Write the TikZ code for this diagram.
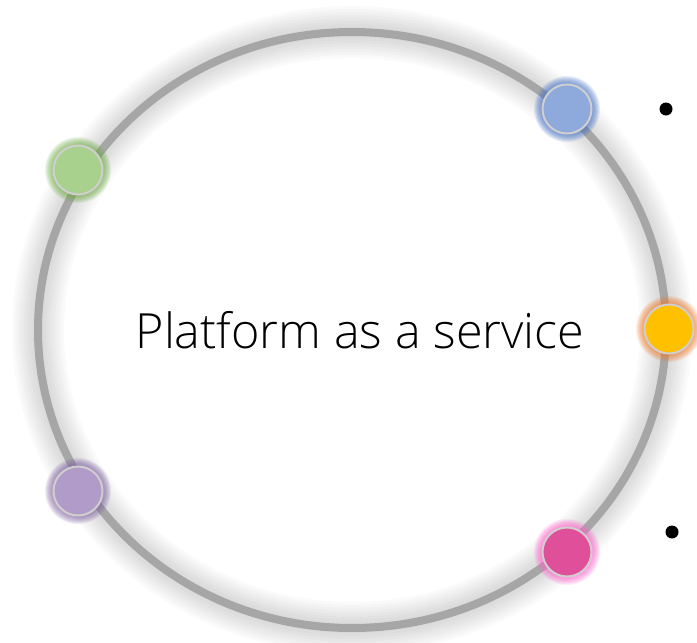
\documentclass[tikz,border=0pt]{standalone}
\usepackage{fontspec}
\newfontfamily\thinfont{Open Sans Light}
\definecolor{ringgray}{HTML}{A6A6A6}
\definecolor{rimgray}{HTML}{D0CECE}
\definecolor{pblue}{HTML}{8EA9DB}
\definecolor{gblue}{HTML}{4472C4}
\definecolor{pgreen}{HTML}{A9D18E}
\definecolor{ggreen}{HTML}{70AD47}
\definecolor{porange}{HTML}{FFC000}
\definecolor{gorange}{HTML}{ED7D31}
\definecolor{ppurple}{HTML}{B19CC9}
\definecolor{gpurple}{HTML}{8064A2}
\definecolor{ppink}{HTML}{E0509A}
\definecolor{gpink}{HTML}{FF66CC}
\begin{document}
\begin{tikzpicture}[
            x=1pt, y=-1pt,
            dot/.style={circle, draw=rimgray, line width=2pt, minimum size=49pt, inner sep=0pt},
            bullet/.style={circle, fill=black, minimum size=13pt, inner sep=0pt},
            ]
            \useasboundingbox (0,0) rectangle (697,643);
            % soft shadow round the ring
            \foreach \w in {52,46,...,10}
                \draw[black, opacity=0.02, line width=\w pt] (352,330) ellipse [x radius=314, y radius=298];
            \draw[ringgray, line width=8pt] (352,330) ellipse [x radius=314, y radius=298];

            \node (title) at (360,330) {\thinfont\fontsize{48.5}{58}\selectfont Platform as a service};

            \coordinate (cblue)   at (567,109);
            \coordinate (cgreen)  at (78,170);
            \coordinate (corange) at (669,329);
            \coordinate (cpurple) at (78,491);
            \coordinate (cpink)   at (567,552);

            % glow behind the dots
            \foreach \c/\g in {cblue/gblue, cgreen/ggreen, corange/gorange, cpurple/gpurple, cpink/gpink}
                \foreach \r in {33,32,...,26}
                    \fill[\g, opacity=0.12] (\c) circle [radius=\r pt];

            \node (blue)   [dot, fill=pblue]   at (cblue)   {};
            \node (green)  [dot, fill=pgreen]  at (cgreen)  {};
            \node (orange) [dot, fill=porange] at (corange) {};
            \node (purple) [dot, fill=ppurple] at (cpurple) {};
            \node (pink)   [dot, fill=ppink]   at (cpink)   {};

            \node (b1) [bullet] at (666,109) {};
            \node (b2) [bullet] at (672,532) {};
        \end{tikzpicture}
\end{document}
